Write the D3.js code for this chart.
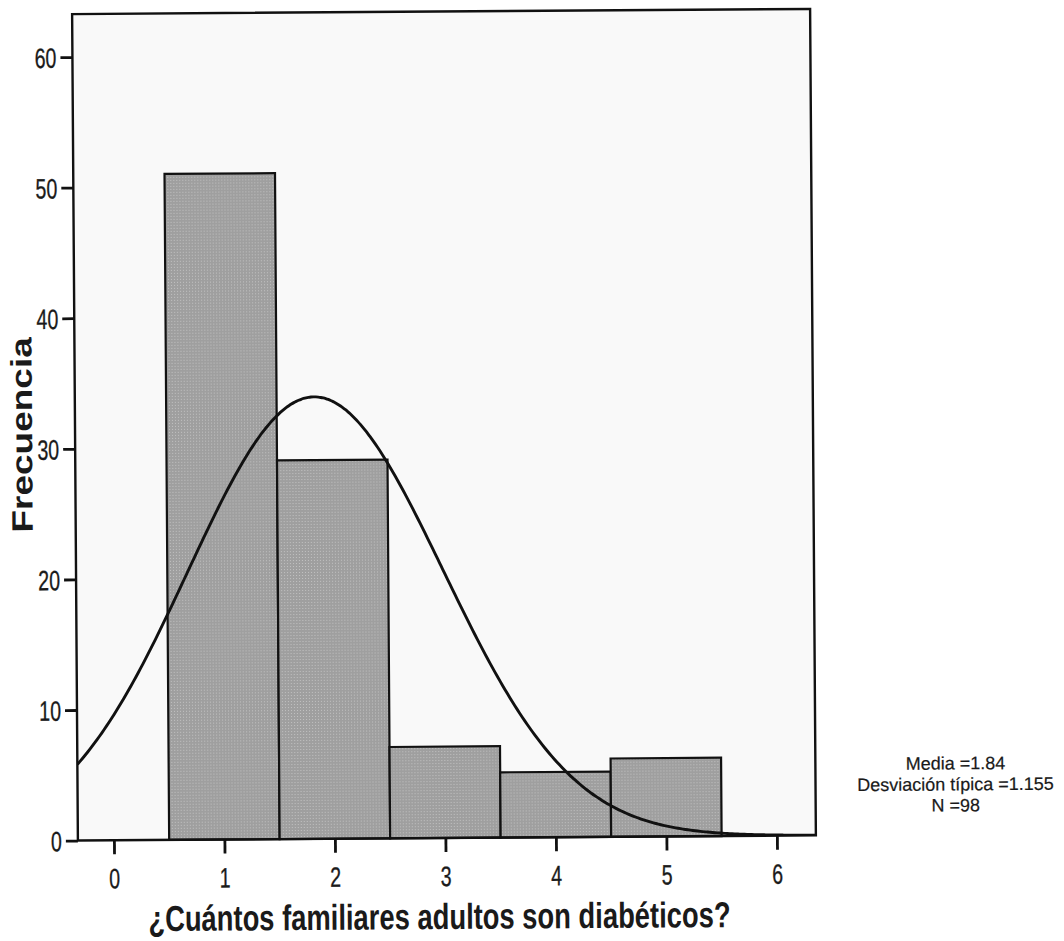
<!DOCTYPE html>
<html>
<head>
<meta charset="utf-8">
<script src="https://cdn.jsdelivr.net/npm/d3@7"></script>
<style>
  html, body { margin: 0; padding: 0; background: #fff; }
  svg { display: block; }
  text { font-family: "Liberation Sans", Arial, "DejaVu Sans", sans-serif; fill: #1a1a1a; }
</style>
</head>
<body>
<svg id="chart" width="1064" height="941"></svg>
<script>
// Histogram of "¿Cuántos familiares adultos son diabéticos?" with fitted normal curve
const binCenters = [1, 2, 3, 4, 5];
const frequencies = [51, 29, 7, 5, 6];
const binWidth = 1;
const xTickValues = [0, 1, 2, 3, 4, 5, 6];
const yTickValues = [0, 10, 20, 30, 40, 50, 60];
const xTitle = "¿Cuántos familiares adultos son diabéticos?";
const yTitle = "Frecuencia";
const statMean = 1.84;
const statSD = 1.155;
const statN = 98;
const statLines = ["Media =1.84", "Desviación típica =1.155", "N =98"];

const W = 1064, H = 941;
const plot = { left: 75, right: 813, top: 11.5, bottom: 838 };
const squeeze = 0.7; // condensed tick label width

const svg = d3.select("#chart");

// light dotted texture for bars
const defs = svg.append("defs");
const pat = defs.append("pattern")
  .attr("id", "barTex").attr("width", 3).attr("height", 3)
  .attr("patternUnits", "userSpaceOnUse");
pat.append("rect").attr("width", 3).attr("height", 3).attr("fill", "#9f9f9f");
pat.append("rect").attr("x", 1).attr("y", 1).attr("width", 1).attr("height", 1).attr("fill", "#c2c2c2");

defs.append("clipPath").attr("id", "plotClip")
  .append("rect")
  .attr("x", plot.left).attr("y", plot.top)
  .attr("width", plot.right - plot.left).attr("height", plot.bottom - plot.top);

const root = svg.append("g").attr("transform", "rotate(-0.4, 444, 425)");

const x = d3.scaleLinear().domain([-0.326, 6.353]).range([plot.left, plot.right]);
const y = d3.scaleLinear().domain([0, 63.29]).range([plot.bottom, plot.top]);

// plot background
root.append("rect")
  .attr("x", plot.left).attr("y", plot.top)
  .attr("width", plot.right - plot.left).attr("height", plot.bottom - plot.top)
  .attr("fill", "#f9f9f9");

// bars
root.append("g").selectAll("rect")
  .data(binCenters.map((c, i) => ({ c, f: frequencies[i] })))
  .join("rect")
  .attr("x", d => x(d.c - binWidth / 2))
  .attr("y", d => y(d.f))
  .attr("width", d => x(d.c + binWidth / 2) - x(d.c - binWidth / 2))
  .attr("height", d => y(0) - y(d.f))
  .attr("fill", "url(#barTex)")
  .attr("stroke", "#111")
  .attr("stroke-width", 2.2);

// normal curve from the reported mean, SD and N
const dens = v => statN * binWidth / (statSD * Math.sqrt(2 * Math.PI)) *
  Math.exp(-0.5 * Math.pow((v - statMean) / statSD, 2));
const [x0, x1] = x.domain();
const curvePts = d3.range(x0, x1 + 0.001, (x1 - x0) / 300).map(v => [v, dens(v)]);
root.append("path")
  .datum(curvePts)
  .attr("clip-path", "url(#plotClip)")
  .attr("fill", "none")
  .attr("stroke", "#111")
  .attr("stroke-width", 2.9)
  .attr("d", d3.line().x(d => x(d[0])).y(d => y(d[1])).curve(d3.curveBasis));

// frame
root.append("rect")
  .attr("x", plot.left).attr("y", plot.top)
  .attr("width", plot.right - plot.left).attr("height", plot.bottom - plot.top)
  .attr("fill", "none").attr("stroke", "#111").attr("stroke-width", 2.4);

// y axis
const yAxis = root.append("g")
  .attr("transform", `translate(${plot.left},0)`)
  .call(d3.axisLeft(y).tickValues(yTickValues).tickSize(12).tickFormat(d3.format("d")));
yAxis.select(".domain").remove();
yAxis.selectAll(".tick line").attr("stroke", "#111").attr("stroke-width", 2.8);
yAxis.selectAll(".tick text")
  .attr("font-size", 28)
  .attr("text-anchor", "end")
  .attr("x", -16 / squeeze)
  .attr("dy", "0.36em")
  .attr("transform", `scale(${squeeze},1)`)
  .attr("fill", "#1a1a1a")
  .attr("stroke", "#1a1a1a")
  .attr("stroke-width", 0.35);

// x axis
const xAxis = root.append("g")
  .attr("transform", `translate(0,${plot.bottom})`)
  .call(d3.axisBottom(x).tickValues(xTickValues).tickSize(14).tickFormat(d3.format("d")));
xAxis.select(".domain").remove();
xAxis.selectAll(".tick line").attr("stroke", "#111").attr("stroke-width", 2.8);
xAxis.selectAll(".tick text")
  .attr("font-size", 28)
  .attr("y", 48)
  .attr("dy", 0)
  .attr("transform", `scale(${squeeze},1)`)
  .attr("fill", "#1a1a1a")
  .attr("stroke", "#1a1a1a")
  .attr("stroke-width", 0.35);

// axis titles
root.append("text")
  .attr("transform", `translate(436,929) scale(0.76,1)`)
  .attr("text-anchor", "middle")
  .attr("font-size", 36)
  .attr("font-weight", "bold")
  .text(xTitle);

root.append("text")
  .attr("transform", `translate(32,432) rotate(-90) scale(1,0.8)`)
  .attr("text-anchor", "middle")
  .attr("font-size", 37)
  .attr("font-weight", "bold")
  .text(yTitle);

// summary statistics
root.append("g").selectAll("text")
  .data(statLines)
  .join("text")
  .attr("transform", (d, i) => `translate(953,${773 + i * 21}) scale(1,1)`)
  .attr("text-anchor", "middle")
  .attr("font-size", 18)
  .attr("stroke", "#1a1a1a")
  .attr("stroke-width", 0.2)
  .text(d => d);
</script>
</body>
</html>
